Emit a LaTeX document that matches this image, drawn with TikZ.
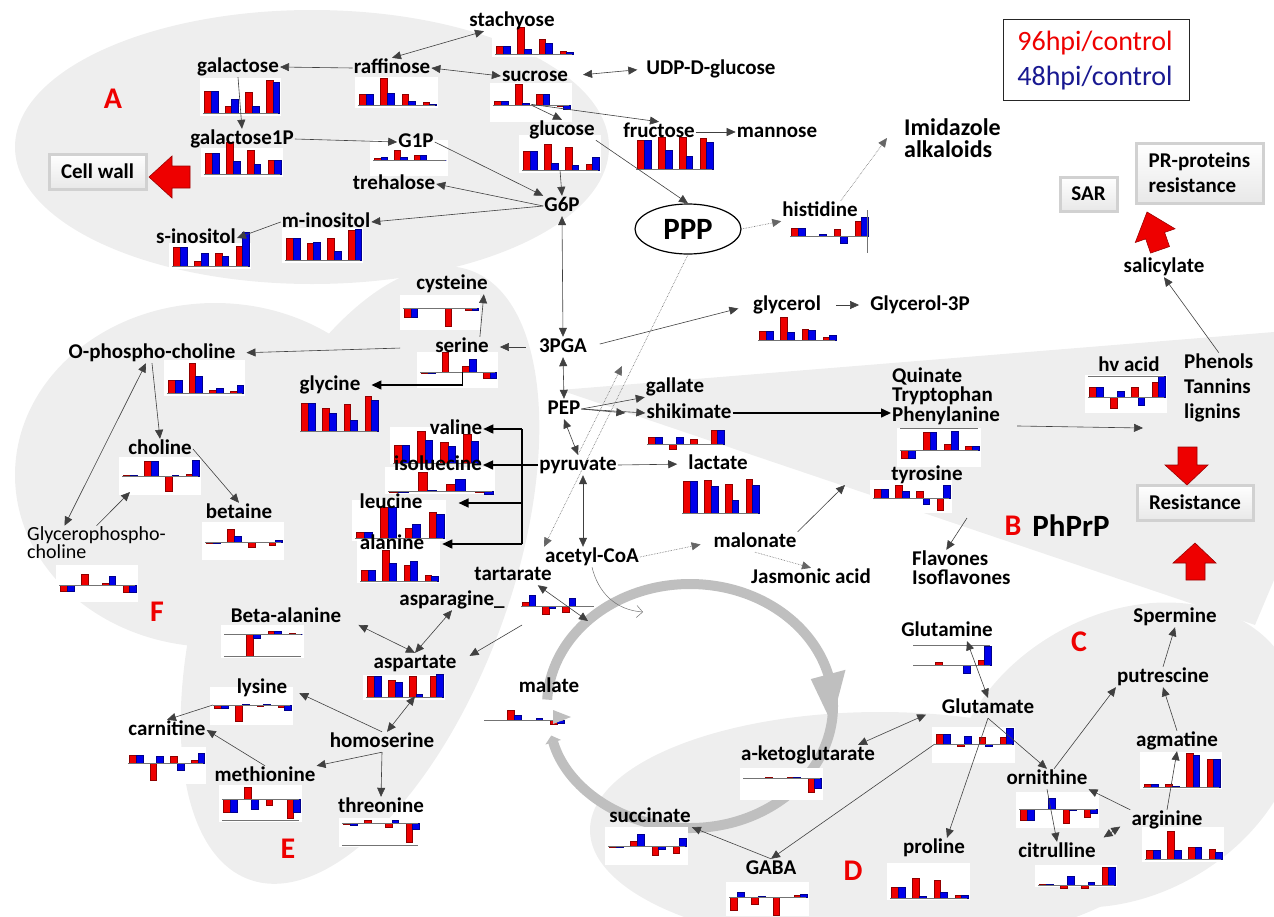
\documentclass[tikz,border=0pt]{standalone}
\usepackage{fontspec}
\setmainfont{Carlito}
\usetikzlibrary{arrows.meta,shapes.geometric,shadows}
\definecolor{myred}{RGB}{238,0,0}
\definecolor{myblue}{RGB}{0,0,235}
\definecolor{navy}{RGB}{25,25,145}
\definecolor{regiongray}{RGB}{238,238,238}
\newcommand\lblfont{\fontsize{21}{21}\selectfont\bfseries}
\tikzset{
  lbl/.style={font=\lblfont, inner sep=1pt, text height=14pt, text depth=4pt},
  mlbl/.style={font=\fontsize{21}{19.5}\selectfont\bfseries, inner sep=1pt, align=left, anchor=west},
  reg/.style={font=\fontsize{30}{30}\selectfont\bfseries, text=myred, inner sep=1pt},
  arr/.style={draw=black!75, line width=0.6pt, -{Triangle[length=9pt,width=8pt]}},
  darr/.style={arr, {Triangle[length=9pt,width=8pt]}-{Triangle[length=9pt,width=8pt]}},
  dotarr/.style={arr, densely dotted, draw=black!60},
  tarr/.style={draw=black, line width=1.5pt, -{Triangle[length=10pt,width=9pt]}},
  tline/.style={draw=black, line width=1.5pt},
  barR/.style={fill=myred, draw=myred!60!black, line width=0.3pt},
  barB/.style={fill=myblue, draw=myblue!60!black, line width=0.3pt},
  axis/.style={draw=black!55, line width=0.8pt},
  btn/.style={font=\lblfont, top color=white, bottom color=black!9, draw=black!18, line width=3pt,
     drop shadow={opacity=0.35, shadow xshift=2pt, shadow yshift=-2pt}, align=left, inner sep=2pt},
  redarrow/.style={fill=myred, draw=myred!65!black, line width=0.6pt},
  tca/.style={draw=black!25, line width=10pt}
}
% #1 name, #2 x0, #3 x1, #4 baseline y, #5 box top, #6 box bottom, #7 data r/b
\newcommand\chart[7]{%
  \fill[white] (#2-3,#5) rectangle (#3+3,#6);
  \pgfmathsetmacro\cgs{(#3-#2)/3.65}%
  \pgfmathsetmacro\cbw{\cgs*0.32}%
  \foreach \vR/\vB [count=\vi from 0] in {#7}{%
    \pgfmathsetmacro\cxa{#2+1.5+\vi*\cgs}%
    \filldraw[barR] (\cxa,#4) rectangle ({\cxa+\cbw},{#4-(\vR)});
    \filldraw[barB] ({\cxa+\cbw},#4) rectangle ({\cxa+2*\cbw},{#4-(\vB)});
  }
  \draw[axis] (#2,#4) -- (#3,#4);
  \node[inner sep=0pt, minimum width={(#3-#2)*1pt}, minimum height=1pt] (#1) at ({(#2+#3)/2},#4) {};
}
\begin{document}
\begin{tikzpicture}[x=1pt,y=-1pt]
\useasboundingbox (0,0) rectangle (1274,916);
% ---------------- gray regions
\fill[regiongray] (312,147) ellipse [x radius=297pt, y radius=137pt];
\fill[regiongray] (215,475) ellipse [x radius=200pt, y radius=172pt];
\fill[regiongray, rotate around={70:(360,575)}] (360,575) ellipse [x radius=324pt, y radius=150pt];
\fill[regiongray] (560,390) -- (1274,332) -- (1274,580) -- (1255,625) -- cycle;
\fill[regiongray, rotate around={30:(1125,755)}] (1125,755) ellipse [x radius=185pt, y radius=140pt];
\fill[regiongray] (880,830) ellipse [x radius=290pt, y radius=118pt];
% ---------------- TCA cycle ring
\draw[tca, -{Triangle[length=7pt,width=16pt]}] (690,706) ++(183:143 and 122) arc[start angle=183, end angle=526, x radius=143, y radius=122];
\fill[black!25] ({690+161*cos(345)},{706+140*sin(345)}) -- ({690+125*cos(345)},{706+104*sin(345)}) -- ({690+143*cos(368)},{706+122*sin(368)}) -- cycle;
% ---------------- charts
\chart{c-gal}{203}{278}{113}{78}{116}{22/22,7/14,21/7,33/31}
\chart{c-raf}{358}{435}{105}{77}{108}{11/11,27/12,11/4,3/1}
\chart{c-stach}{495}{572}{54}{27}{57}{8/8,27/5,15/11,3/2}
\chart{c-suc}{493}{569}{105}{83}{122}{4/4,21/2,11/11,-1/-4}
\chart{c-glc}{522}{598}{170}{135}{173}{19/19,26/7,23/5,6/13}
\chart{c-fru}{636}{712}{169}{140}{172}{29/29,32/19,32/13,31/27}
\chart{c-gal1p}{204}{280}{174}{148}{177}{21/21,32/13,24/10,14/14}
\chart{c-g1p}{373}{445}{160}{140}{176}{2/3,10/3,5/5,0/0}
\chart{c-mino}{285}{360}{260}{228}{263}{22/22,17/18,22/9,30/31}
\chart{c-sino}{172}{248}{266}{243}{269}{19/19,5/13,13/10,20/34}
\chart{c-his}{790}{867}{236}{236}{236}{8/8,0/2,7/-7,15/19}
\chart{c-cys}{403}{477}{308}{295}{330}{-9/-9,0/0,-18/0,-2/-2}
\chart{c-ser}{420}{495}{372}{352}{388}{-1/-1,20/0,6/13,-6/-6}
\chart{c-ophc}{167}{242}{393}{360}{396}{13/13,30/17,3/5,2/8}
\chart{c-gly}{300}{377}{431}{431}{431}{28/28,23/18,27/11,35/31}
\chart{c-chol}{122}{198}{476}{457}{495}{1/1,15/15,-15/1,2/16}
\chart{c-bet}{205}{281}{542}{522}{560}{-1/-1,13/6,-5/0,-3/2}
\chart{c-gpc}{59}{135}{585}{565}{602}{-6/-6,11/0,2/9,-7/-7}
\chart{c-val}{393}{477}{463}{427}{464}{18/18,32/23,21/17,29/22}
\chart{c-iso}{388}{492}{491}{467}{494}{-1/-1,19/1,7/12,-1/-3}
\chart{c-leu}{355}{443}{538}{500}{541}{6/6,31/31,10/14,26/24}
\chart{c-ala}{360}{437}{581}{540}{583}{11/11,31/18,16/20,6/5}
\chart{c-glyc}{758}{835}{340}{340}{340}{9/9,23/8,11/10,3/5}
\chart{c-shik}{647}{723}{444}{444}{444}{7/7,-5/7,5/0,14/14}
\chart{c-lac}{682}{758}{513}{513}{513}{32/32,33/27,29/13,34/28}
\chart{c-qtp}{900}{978}{450}{428}{467}{-8/-8,18/18,6/19,4/4}
\chart{c-tyr}{873}{949}{498}{480}{513}{9/9,13/7,7/-6,-12/13}
\chart{c-hv}{1088}{1164}{397}{375}{413}{10/10,-11/6,10/-8,15/21}
\chart{c-tart}{521}{594}{606}{606}{606}{4/11,-8/-2,-6/8}
\chart{c-beta}{224}{301}{634}{625}{658}{0/0,-22/-4,3/3,1/0}
\chart{c-asp}{366}{442}{697}{675}{700}{21/21,17/15,21/3,21/23}
\chart{c-lys}{213}{290}{705}{687}{725}{-3/-3,-16/1,-1/1,-2/-5}
\chart{c-carn}{128}{203}{763}{747}{784}{8/8,-17/7,7/-7,3/10}
\chart{c-met}{222}{299}{799}{785}{822}{-13/-13,12/-10,-6/0,-19/-13}
\chart{c-thr}{342}{418}{823}{818}{847}{-1/-2,3/0,-4/3,-19/-6}
\chart{c-malate}{484}{563}{720}{700}{735}{0/0,10/5,0/2,-4/-3}
\chart{c-succ}{608}{685}{846}{827}{865}{-1/-1,5/12,-9/-3,-7/8}
\chart{c-gaba}{729}{806}{897}{882}{916}{-13/5,-7/1,-18/0,2/3}
\chart{c-akg}{743}{820}{778}{768}{800}{0/0,1/0,1/1,-14/-10}
\chart{c-gln}{913}{990}{665}{643}{672}{0/0,3/0,0/-8,5/19}
\chart{c-glu}{935}{1012}{744}{727}{763}{10/10,-2/8,7/-2,7/16}
\chart{c-pro}{890}{967}{898}{863}{900}{11/11,20/2,18/6,3/3}
\chart{c-orn}{1019}{1096}{809}{792}{828}{-11/-11,0/11,-14/-1,-8/-4}
\chart{c-cit}{1038}{1114}{885}{865}{887}{1/1,-3/9,-3/3,18/18}
\chart{c-arg}{1145}{1221}{859}{827}{862}{9/9,28/9,12/12,10/7}
\chart{c-agm}{1143}{1219}{787}{752}{789}{3/3,3/1,34/32,28/28}
% extra chart lines
\draw[axis] (900,428) -- (978,428);
\draw[axis] (1088,376) -- (1164,376);
\draw[axis] (913,645) -- (990,645);
\draw[axis] (224,656) -- (301,656);
\draw[axis] (222,820) -- (299,820);
\draw[axis] (342,845) -- (418,845);
\draw[axis] (867,210) -- (867,253);
% small gray triangle in the ring gap
\fill[black!25] (553,710) -- (571,717) -- (553,724) -- cycle;
% ---------------- labels
\node[lbl] (gal) at (238,67) {galactose};
\node[lbl] (raf) at (392,68) {raffinose};
\node[lbl] (stach) at (512,21) {stachyose};
\node[lbl] (suc) at (535,76) {sucrose};
\node[lbl] (udp) at (711,69) {UDP-D-glucose};
\node[lbl] (glc) at (562,130) {glucose};
\node[lbl] (fru) at (659,132) {fructose};
\node[lbl] (man) at (777,132) {mannose};
\node[lbl] (gal1p) at (242,139) {galactose1P};
\node[lbl] (g1p) at (416,142) {G1P};
\node[lbl] (treh) at (394,184) {trehalose};
\node[lbl] (g6p) at (562,206) {G6P};
\node[lbl] (mino) at (326,222) {m-inositol};
\node[lbl] (sino) at (196,238) {s-inositol};
\node[draw=black, line width=1.2pt, ellipse, minimum width=106pt, minimum height=50pt, inner sep=0pt,
      font=\fontsize{31}{31}\selectfont\bfseries] (ppp) at (688,229) {PPP};
\node[lbl] (his) at (820,211) {histidine};
\node[font=\fontsize{24}{22}\selectfont\bfseries, align=left, anchor=west, inner sep=1pt] (imid) at (903,138) {Imidazole\\alkaloids};
\node[lbl] (cys) at (452,284) {cysteine};
\node[lbl] (ser) at (462,347) {serine};
\node[lbl] (pga) at (563,347) {3PGA};
\node[lbl] (ophc) at (152,353) {O-phospho-choline};
\node[lbl] (gly) at (330,385) {glycine};
\node[lbl] (pep) at (564,409) {PEP};
\node[lbl] (gallate) at (675,387) {gallate};
\node[lbl] (shik) at (689,413) {shikimate};
\node[lbl] (val) at (456,429) {valine};
\node[lbl] (iso) at (438,465) {isoluecine};
\node[lbl] (pyr) at (578,465) {pyruvate};
\node[lbl] (lac) at (718,464) {lactate};
\node[lbl] (leu) at (391,503) {leucine};
\node[lbl] (ala) at (392,544) {alanine};
\node[lbl] (acoa) at (592,557) {acetyl-CoA};
\node[lbl] (malo) at (755,542) {malonate};
\node[lbl] (jas) at (811,578) {Jasmonic acid};
\node[lbl] (glyc) at (787,305) {glycerol};
\node[lbl] (g3p) at (920,305) {Glycerol-3P};
\node[lbl] (chol) at (160,449) {choline};
\node[lbl] (bet) at (239,513) {betaine};
\node[font=\fontsize{20}{12}\selectfont, align=left, anchor=west, inner sep=1pt] (gpc) at (26,543) {Glycerophospho-\\choline};
\node[lbl] (tart) at (513,575) {tartarate};
\node[lbl] (aspn) at (452,600) {asparagine\_};
\node[lbl] (beta) at (286,617) {Beta-alanine};
\node[lbl] (asp) at (415,663) {aspartate};
\node[lbl] (lys) at (262,688) {lysine};
\node[lbl] (carn) at (167,730) {carnitine};
\node[lbl] (hom) at (382,742) {homoserine};
\node[lbl] (met) at (265,776) {methionine};
\node[lbl] (thr) at (381,807) {threonine};
\node[lbl] (malate) at (549,687) {malate};
\node[lbl] (succ) at (650,817) {succinate};
\node[lbl] (gaba) at (771,869) {GABA};
\node[lbl] (akg) at (808,755) {a-ketoglutarate};
\node[lbl] (gln) at (947,631) {Glutamine};
\node[lbl] (glu) at (988,708) {Glutamate};
\node[lbl] (pro) at (934,848) {proline};
\node[lbl] (orn) at (1047,779) {ornithine};
\node[lbl] (cit) at (1057,852) {citrulline};
\node[lbl] (arg) at (1167,820) {arginine};
\node[lbl] (agm) at (1177,741) {agmatine};
\node[lbl] (put) at (1163,677) {putrescine};
\node[lbl] (spm) at (1175,617) {Spermine};
\node[mlbl] (qtp) at (891,396) {Quinate\\Tryptophan\\Phenylanine};
\node[lbl] (tyr) at (927,475) {tyrosine};
\node[mlbl, font=\fontsize{21}{19}\selectfont\bfseries] (flav) at (911,568) {Flavones\\Isoflavones};
\node[lbl] (hv) at (1129,366) {hv acid};
\node[mlbl, font=\fontsize{21}{25}\selectfont\bfseries] (phen) at (1183,388) {Phenols\\Tannins\\lignins};
\node[lbl] (sal) at (1164,267) {salicylate};
% region letters
\node[reg] (lA) at (113,99) {A};
\node[reg] (lB) at (1013,526) {B};
\node[font=\fontsize{31}{31}\selectfont\bfseries, inner sep=1pt] (phprp) at (1071,526) {PhPrP};
\node[reg] (lC) at (1079,642) {C};
\node[reg] (lD) at (853,871) {D};
\node[reg] (lE) at (288,849) {E};
\node[reg] (lF) at (157,612) {F};
% buttons
\node[btn, minimum width=97pt, minimum height=35pt] (cw) at (97.5,171.5) {Cell wall};
\node[btn, minimum width=57pt, minimum height=34pt] (sar) at (1088.5,194) {SAR};
\node[btn, minimum width=127pt, minimum height=60pt, font=\fontsize{21}{25}\selectfont\bfseries] (prp) at (1199.5,173) {PR-proteins\\resistance};
\node[btn, minimum width=116pt, minimum height=35pt] (res) at (1195,502.5) {Resistance};
% legend
\node[draw=black!85, line width=1.2pt, fill=white, minimum width=186pt, minimum height=81pt, inner sep=0pt] (legend) at (1096.5,60) {};
\node[font=\fontsize{28}{28}\selectfont, text=myred, inner sep=0pt] (l96) at (1095,43) {96hpi/control};
\node[font=\fontsize{28}{28}\selectfont, text=navy, inner sep=0pt] (l48) at (1095,78) {48hpi/control};
% free-end coordinates
\coordinate (dotend) at (622,366);
\coordinate (tyrin) at (845,485);
\coordinate (tcain) at (643,612);
\coordinate (tcaA) at (588,621);
\coordinate (tcaB) at (522,625);
\coordinate (cholin) at (130,492);
\coordinate (phin) at (1143,428);
\coordinate (tyrout) at (967,518);
\coordinate (tr) at (522,465);
% ---------------- connectors: region A
\draw[arr] (raf.west) -- (gal.east);
\draw[darr] (raf.north) -- (stach.200);
\draw[darr] (raf.east) -- (suc.west);
\draw[darr, shorten <=14pt, shorten >=8pt] (suc.east) -- (udp.west);
\draw[arr] (c-suc) -- (glc.north);
\draw[arr] (c-suc.north) -- (fru.north);
\draw[arr] (fru.east) -- (man.west);
\draw[arr] (gal.south) -- (gal1p.north);
\draw[arr] (gal1p.east) -- (g1p.west);
\draw[arr] (g1p.east) -- (g6p.north west);
\draw[arr] (g6p.west) -- (treh.east);
\draw[arr] (g6p.west) -- (mino.east);
\draw[arr] (mino.west) -- (sino.east);
\draw[arr] (c-glc) -- (g6p.north);
\draw[arr] (glc.south east) -- (ppp.north);
\draw[darr] (g6p.south) -- (pga.north);
\draw[dotarr] (ppp.east) -- (his.south west);
\draw[dotarr] ([xshift=-18pt]his.north east) -- ([xshift=-16pt]imid.west);
\draw[dotarr] (ppp.south) -- (acoa.north west);
\draw[dotarr] (pyr.north) -- (dotend);
% center
\draw[arr, shorten <=12pt, shorten >=10pt] (pga.west) -- (ser.east);
\draw[arr] ([xshift=-10pt]ser.north east) -- ([xshift=-5pt]cys.south east);
\draw[arr, shorten <=34pt, shorten >=10pt] (ser.west) -- (ophc.east);
\draw[tarr] ([xshift=5pt]c-ser.center) |- ([xshift=10pt]gly.east);
\draw[darr] (pga.south) -- (pep.north);
\draw[darr] (pep.south) -- (pyr.north);
\draw[arr] (pep.east) -- (gallate.south west);
\draw[arr] (pep.east) -- ([xshift=-20pt]shik.west);
\draw[arr] (pep.east) -- (shik.west);
\draw[tarr] (shik.east) -- (shik.east -| qtp.west);
\draw[tline] (pyr.west) -- (tr);
\draw[tline] (tr |- val.east) -- (tr |- ala.east);
\draw[tarr] (tr |- val.east) -- (val.east);
\draw[tarr] (tr) -- (iso.east);
\draw[tarr] (tr |- leu.east) -- ([xshift=35pt]leu.east);
\draw[tarr] (tr |- ala.east) -- ([xshift=17pt]ala.east);
\draw[arr, shorten >=10pt] (pyr.east) -- (lac.west);
\draw[darr] ([xshift=5pt]pyr.south) -- ([xshift=-9pt]acoa.north);
\draw[dotarr, shorten >=12pt] (acoa.east) -- (malo.west);
\draw[dotarr] (malo.south) -- (jas.north);
\draw[arr] (malo.north east) -- (tyrin);
\draw[arr, shorten <=12pt, shorten >=14pt] (pga.east) -- (glyc.west);
\draw[arr, shorten <=14pt, shorten >=10pt] (glyc.east) -- (g3p.west);
\draw[black!55, line width=0.5pt, -{Straight Barb[length=6pt]}] (acoa.south) .. controls (598,592) and (615,610) .. (tcain);
\draw[darr] ([xshift=-15pt]tart.south east) -- (tcaA);
\draw[arr, shorten >=14pt] (tcaB) -- (asp.east);
\draw[darr] (aspn.south) -- (asp.north);
\draw[darr, shorten <=18pt] (beta.east) -- (asp.north);
\draw[arr, shorten >=12pt] (hom.north) -- (lys.east);
\draw[darr] ([xshift=5pt]hom.north) -- ([xshift=11pt]c-asp.north);
\draw[arr] (c-lys.west) -- (carn.north);
\draw[arr] (met.north) -- (carn.east);
\draw[arr] (hom.south) -- (met.north east);
\draw[arr] (hom.south) -- (thr.north);
% choline region
\draw[arr] (ophc.south) -- (chol.north);
\draw[darr] ([xshift=-6pt]ophc.south) -- ([xshift=-32pt]gpc.north);
\draw[arr] (gpc.north) -- (cholin);
\draw[arr] (chol.east) -- (bet.north);
% D / C
\draw[arr] (gaba.north) -- (succ.south east);
\draw[arr] (c-glu.west) -- (gaba.north);
\draw[darr, shorten >=16pt] ([xshift=-18pt]akg.north east) -- (glu.west);
\draw[darr] ([xshift=20pt]gln.south) -- (glu.north);
\draw[arr] (glu.south) -- ([xshift=13pt]pro.north);
\draw[arr] (glu.south) -- (orn.north);
\draw[arr] (orn.south) -- (cit.north);
\draw[arr] ([xshift=7pt]orn.north) -- (put.south west);
\draw[arr] (arg.north west) -- (orn.south east);
\draw[darr, shorten <=8pt, shorten >=12pt] (cit.north east) -- (arg.west);
\draw[arr] (arg.north) -- (agm.south);
\draw[arr] (agm.north) -- (put.south);
\draw[arr] (put.north) -- (spm.south);
% B
\draw[arr, shorten <=16pt] (qtp.south east) -- (phin);
\draw[arr] (phen.north) -- (sal.south);
\draw[arr] (tyrout) -- ([xshift=-15pt]flav.north);
% ---------------- red block arrows
\filldraw[redarrow] (149,177) -- (172,156) -- (172,166) -- (190,166) -- (190,188) -- (172,188) -- (172,198) -- cycle;
\begin{scope}[shift={(1147,212)}, rotate=19]
\filldraw[redarrow] (0,0) -- (21,25) -- (10,25) -- (10,40) -- (-10,40) -- (-10,25) -- (-21,25) -- cycle;
\end{scope}
\filldraw[redarrow] (1187,485) -- (1208,465) -- (1197,465) -- (1197,447) -- (1178,447) -- (1178,465) -- (1165,465) -- cycle;
\filldraw[redarrow] (1195,543) -- (1216,563) -- (1205,563) -- (1205,580) -- (1186,580) -- (1186,563) -- (1173,563) -- cycle;
\end{tikzpicture}
\end{document}
